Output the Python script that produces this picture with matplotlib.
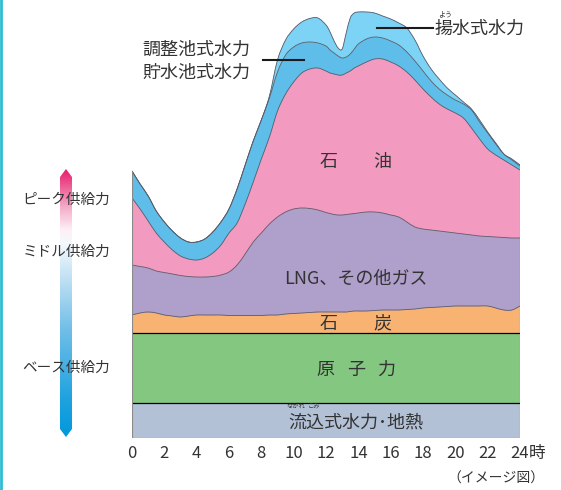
import numpy as np
import matplotlib.pyplot as plt
from matplotlib.patches import Polygon, PathPatch
from matplotlib.path import Path
from matplotlib.colors import LinearSegmentedColormap

plt.rcParams['font.family'] = ['Noto Sans CJK JP', 'DejaVu Sans']

# hours of the day (finer around the midday dip)
hours = [0, 0.5, 1, 1.5, 2, 2.5, 3, 3.5, 4, 4.5, 5, 5.5, 6, 6.5, 7, 7.5, 8, 8.5,
         9, 9.5, 10, 10.5, 11, 11.5, 12,
         12.25, 12.5, 12.75, 13, 13.25, 13.5, 13.75, 14,
         14.5, 15, 15.5, 16, 16.5, 17, 17.5, 18, 18.5, 19, 19.5, 20, 20.5,
         21, 21.5, 22, 22.5, 23, 23.5, 24]

# cumulative tops of each layer (image units)
run_of_river_top = 35
nuclear_top = 105
coal_top = [123, 125, 126, 125, 123, 122, 121, 122, 123, 123, 123, 123, 122.5,
            122.5, 122.5, 122.5, 122.5, 123, 123, 124, 124.5, 125, 125.5, 126, 126,
            126, 126, 126, 126, 126, 126.5, 127, 127,
            127, 127.5, 128, 128, 128, 128.5, 129, 130, 130.5, 131, 131.5, 132,
            132, 132, 132, 132, 130, 128, 128, 132]
lng_top = [173, 171.5, 170, 167, 165.5, 164, 162.5, 161.5, 161, 161, 161.5, 163,
           166, 173, 184, 196, 205, 214, 221, 226, 229, 230, 229.5, 228, 225.5,
           224.5, 223.5, 223, 223, 223.5, 224, 224.5, 225,
           226, 226, 225, 223, 221, 216, 211, 209, 208, 207, 206, 205, 204,
           203, 202, 201.5, 201, 200.5, 200, 200]
oil_top = [240, 229, 217, 205, 196, 188, 182, 179, 178, 180, 185, 193, 205, 215,
           234, 256, 279, 301, 327, 344, 356, 365, 369, 370, 367,
           365, 364, 363, 363, 365, 367, 370, 372,
           376, 379, 379, 376, 372, 366, 358, 349, 341, 334, 329, 325, 320,
           310, 299, 289, 283, 278, 273, 268]
reservoir_top = [267, 254, 242, 227, 216, 207, 200, 196, 196, 199, 206, 216, 229,
                 249, 273, 297, 318, 340, 366, 383, 391, 395, 396, 395, 392,
                 388, 385, 382, 380, 381, 384, 389, 394,
                 399, 401, 400, 397, 393, 386, 377, 367, 357, 349, 343, 338, 334,
                 328, 316, 305, 294, 284, 278, 272]
pumped_top = [267, 254, 242, 227, 216, 207, 200, 196, 196, 199, 206, 216, 229,
              249, 273, 297, 318, 342, 378, 398, 409, 416, 419.5, 420, 413,
              406, 397, 390, 389, 405, 420, 425, 426,
              426, 425, 422, 419, 415, 410, 398, 382, 369, 359, 350, 343, 336,
              329, 318, 306, 295, 284, 279, 273]

hours = np.array(hours, dtype=float)
n = len(hours)


def curve(xs, ys):
    # smooth Catmull-Rom style bezier through the given points
    pts = np.column_stack([xs, ys])
    verts = [pts[0]]
    for i in range(len(pts) - 1):
        p0 = pts[max(i - 1, 0)]
        p1 = pts[i]
        p2 = pts[i + 1]
        p3 = pts[min(i + 2, len(pts) - 1)]
        verts += [p1 + (p2 - p0) / 6, p2 - (p3 - p1) / 6, p2]
    codes = [Path.MOVETO] + [Path.CURVE4] * (len(verts) - 1)
    return verts, codes


def band(ax, lower, upper, color):
    uv, uc = curve(hours, upper)
    lv, lc = curve(hours[::-1], np.asarray(lower, dtype=float)[::-1])
    verts = uv + lv + [uv[0]]
    codes = uc + [Path.LINETO] + lc[1:] + [Path.CLOSEPOLY]
    ax.add_patch(PathPatch(Path(verts, codes), facecolor=color, edgecolor=color,
                           lw=0.3, zorder=1))


def edge(ax, top):
    v, c = curve(hours, np.asarray(top, dtype=float))
    ax.add_patch(PathPatch(Path(v, c), facecolor='none', edgecolor='#5a5a66',
                           lw=0.6, zorder=2))


W, H = 561, 490
fig = plt.figure(figsize=(W / 100, H / 100), dpi=100)
ax = fig.add_axes([132 / W, (H - 438) / H, (520 - 132) / W, 438 / H])
ax.set_xlim(0, 24)
ax.set_ylim(0, 438)

ax.fill_between(hours, 0, run_of_river_top, facecolor='#b3c1d6', edgecolor='none', zorder=1)
ax.fill_between(hours, run_of_river_top, nuclear_top, facecolor='#84c781', edgecolor='none', zorder=1)
band(ax, np.full(n, nuclear_top), coal_top, '#f8b272')
band(ax, coal_top, lng_top, '#ae9fcb')
band(ax, lng_top, oil_top, '#f39ac0')
band(ax, oil_top, reservoir_top, '#5fbde9')
band(ax, reservoir_top, pumped_top, '#7dd3f5')
for top in [coal_top, lng_top, oil_top, reservoir_top, pumped_top]:
    edge(ax, top)
ax.hlines([run_of_river_top, nuclear_top], 0, 24, color='black', lw=0.9, zorder=3)
ax.hlines(0.5, 0, 24, color='#8a8a8a', lw=0.8, zorder=3)
ax.vlines(0, 0, pumped_top[0], color='#8a8a8a', lw=0.8, zorder=3)
ax.vlines(24, 0, pumped_top[-1], color='#8a8a8a', lw=0.8, zorder=3)

for s in ax.spines.values():
    s.set_visible(False)
ax.set_yticks([])
ax.set_xticks(range(0, 25, 2))
ax.tick_params(axis='x', length=0, pad=5, labelsize=12, labelcolor='#333333')

tc = '#333333'
ax.text(13.86, 276, '石　　油', ha='center', va='center', fontsize=13, color=tc)
ax.text(13.86, 159, 'LNG、その他ガス', ha='center', va='center', fontsize=13, color=tc)
ax.text(13.86, 115, '石　　炭', ha='center', va='center', fontsize=13, color=tc)
for ch, hx in zip('原子力', [11.98, 13.84, 15.7]):
    ax.text(hx, 68, ch, ha='center', va='center', fontsize=13, color=tc)
ax.text(13.86, 15, '流込式水力･地熱', ha='center', va='center', fontsize=13, color=tc)
ax.text(10.15, 32, 'ながれ', ha='center', va='center', fontsize=4.5, color=tc)
ax.text(11.26, 32, 'こみ', ha='center', va='center', fontsize=4.5, color=tc)

# overlay in pixel coordinates
ov = fig.add_axes([0, 0, 1, 1], zorder=5)
ov.set_xlim(0, W)
ov.set_ylim(H, 0)
ov.axis('off')
ov.patch.set_alpha(0)

ov.plot([1.5, 1.5], [0, H], color='#2bbdd5', lw=2)

# supply arrow with gradient
cmap = LinearSegmentedColormap.from_list('supply', [
    (0.0, '#0098dc'), (0.15, '#20a3df'), (0.4, '#70bee8'), (0.6, '#c4e2f4'),
    (0.72, '#f3f9fd'), (0.77, '#fdf1f6'), (0.86, '#f4a8c6'), (1.0, '#e8196a')])
grad = np.linspace(1, 0, 256).reshape(-1, 1)
im = ov.imshow(grad, cmap=cmap, extent=[59, 73, 438, 169], aspect='auto', zorder=1)
arrow = Polygon([(66, 169), (72, 177), (72, 429), (66, 437), (60, 429), (60, 177)],
                closed=True, transform=ov.transData)
im.set_clip_path(arrow)
ov.set_xlim(0, W)
ov.set_ylim(H, 0)

for label, y in [('ピーク供給力', 200), ('ミドル供給力', 252), ('ベース供給力', 368)]:
    ov.text(110, y, label, ha='right', va='center', fontsize=10.5, color=tc, zorder=3)

ov.plot([377, 433], [28, 28], color='#1a1a1a', lw=1.5)
ov.plot([263, 304], [60, 60], color='#1a1a1a', lw=1.5)
ov.text(435, 29, '揚水式水力', ha='left', va='center', fontsize=13, color=tc)
ov.text(445, 14, 'よう', ha='center', va='center', fontsize=5, color=tc)
ov.text(142, 50, '調整池式水力', ha='left', va='center', fontsize=13, color=tc)
ov.text(142, 73, '貯水池式水力', ha='left', va='center', fontsize=13, color=tc)
ov.text(529, 453, '時', ha='left', va='center', fontsize=12, color=tc)
ov.text(545, 479, '（イメージ図）', ha='right', va='center', fontsize=10, color=tc)

fig.savefig('out.png', dpi=100)
